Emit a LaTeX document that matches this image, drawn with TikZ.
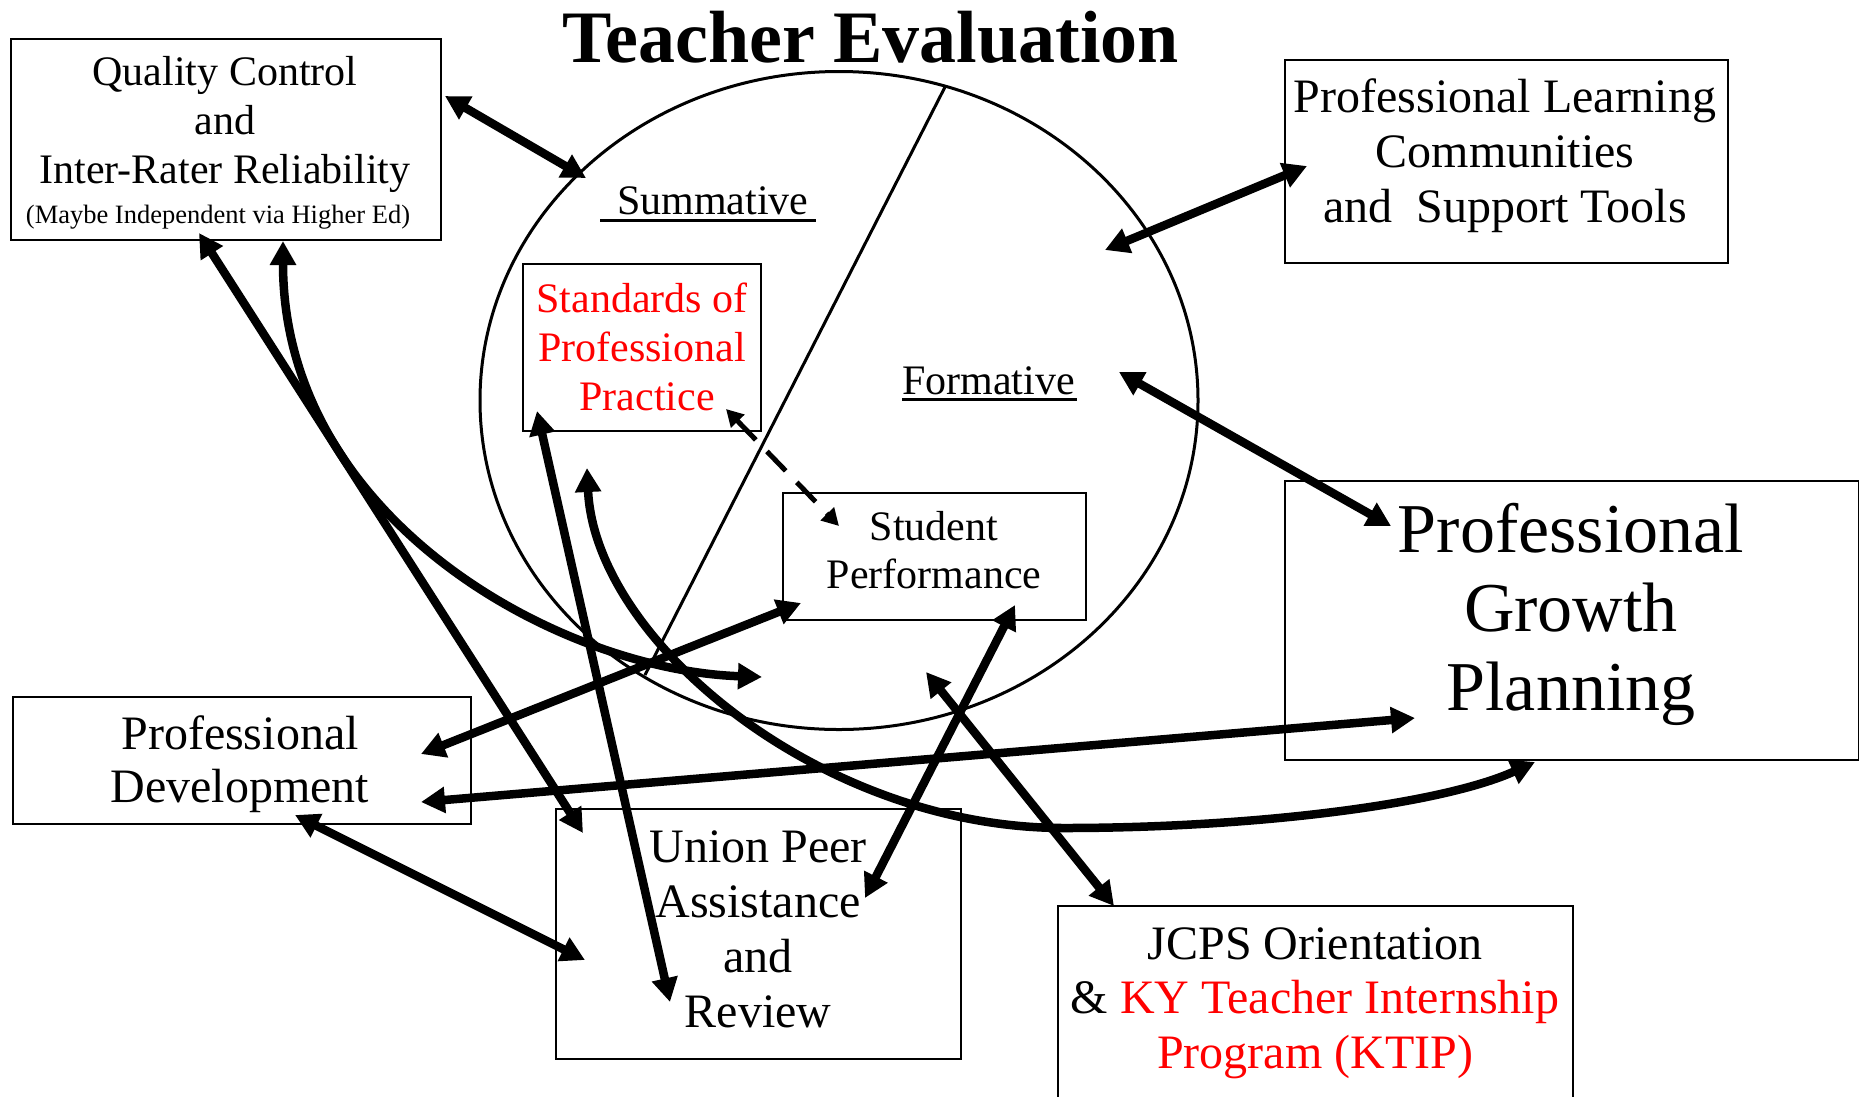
\documentclass[tikz,border=0pt]{standalone}
\usepackage{fontspec}
\setmainfont{Liberation Serif}
\usetikzlibrary{arrows.meta,shapes.geometric}
\newcommand{\mylines}[1]{\begin{tabular}[t]{@{}c@{}}#1\end{tabular}}
\begin{document}
\begin{tikzpicture}[x=1pt,y=-1pt,
  bigtip/.tip={Triangle[length=24pt,width=25pt]},
  smalltip/.tip={Triangle[length=17pt,width=18pt]},
  box/.style={draw, line width=2pt, inner sep=0pt, anchor=north west},
  txt/.style={inner sep=0pt, anchor=base},
  arr/.style={line width=8.5pt, bigtip-bigtip},
  darr/.style={line width=5pt, dash pattern=on 27pt off 16pt, smalltip-smalltip},
  f42/.style={font=\fontsize{42}{49}\selectfont},
  f48/.style={font=\fontsize{48}{55}\selectfont},
  f70/.style={font=\fontsize{70}{79}\selectfont}]
\useasboundingbox (0,0) rectangle (1859,1096);
\fill[white] (0,0) rectangle (1859,1096);

% central ellipse and divider
\node[draw, ellipse, line width=3pt, inner sep=0pt, minimum width=718pt, minimum height=658pt] (teval) at (839,400.5) {};
\coordinate (divtop) at (945,87);
\coordinate (divbot) at (645,675);
\draw[line width=3pt] (divtop) -- (divbot);

% title
\node[txt, font=\bfseries\fontsize{74}{80}\selectfont] (title) at (871,62) {Teacher Evaluation};

% labels in ellipse
\node[txt, anchor=base west, f42] (summ) at (600,214) {\hspace*{17pt}Summative};
\draw[line width=3pt] ([yshift=-6pt]summ.base west) -- ([yshift=-6pt,xshift=7pt]summ.base east);
\node[txt, anchor=base west, f42] (form) at (902,394) {Formative};
\draw[line width=3pt] ([yshift=-5pt]form.base west) -- ([yshift=-5pt,xshift=2pt]form.base east);

% boxes
\node[box, minimum width=430pt, minimum height=201pt] (qc) at (10,38) {};
\node[txt, f42] (qct) at (225,85) {\mylines{Quality Control\\ and\\ Inter-Rater Reliability\\[-9pt] {\fontsize{26.5}{30}\selectfont (Maybe Independent via Higher Ed)\hspace*{14pt}}}};

\node[box, minimum width=238pt, minimum height=167pt] (std) at (522,263) {};
\node[txt, f42, text=red] (stdt) at (642,312) {\mylines{Standards of\\ Professional\\ \hspace*{10pt}Practice}};

\node[box, minimum width=303pt, minimum height=127pt] (stu) at (782,492) {};
\node[txt, font=\fontsize{42}{48}\selectfont] (stut) at (934,540) {\mylines{Student\\ Performance}};

\node[box, minimum width=443pt, minimum height=203pt] (plc) at (1284,59) {};
\node[txt, f48] (plct) at (1505,112) {\mylines{Professional Learning\\ Communities\\ and\ \ Support Tools}};

\node[box, minimum width=574pt, minimum height=279pt] (pgp) at (1284,480) {};
\node[txt, f70] (pgpt) at (1571,552) {\mylines{Professional\\ Growth\\ Planning}};

\node[box, minimum width=458pt, minimum height=127pt] (pd) at (12,696) {};
\node[txt, font=\fontsize{48}{53}\selectfont] (pdt) at (240,749) {\mylines{Professional\\ Development}};

\node[box, minimum width=405pt, minimum height=250pt] (upr) at (555,808) {};
\node[txt, f48] (uprt) at (758,862) {\mylines{Union Peer\\ Assistance\\ and\\ Review}};

\node[box, minimum width=515pt, minimum height=250pt] (jcps) at (1057,905) {};
\node[txt, font=\fontsize{48}{54.5}\selectfont] (jcpst) at (1315,959) {\mylines{JCPS Orientation\\ \& {\color{red}KY Teacher Internship}\\ {\color{red}Program (KTIP)}}};

% connector end points
\coordinate (qcA) at (445,96);   \coordinate (sumA) at (586,178);
\coordinate (plcA) at (1307,166); \coordinate (formA) at (1105,250);
\coordinate (formB) at (1119,372); \coordinate (pgpA) at (1391,526);
\coordinate (qcB) at (199,233);  \coordinate (uprA) at (583,833);
\coordinate (qcC) at (283,241);  \coordinate (sumB) at (762,677);
\coordinate (stdA) at (537,411); \coordinate (uprB) at (670,1002);
\coordinate (sumC) at (587,468); \coordinate (lowM) at (1064,828); \coordinate (pgpB) at (1535,762);
\coordinate (stdB) at (726,409); \coordinate (stuA) at (839,526);
\coordinate (stuB) at (801,603); \coordinate (pdA) at (421,754);
\coordinate (pgpC) at (1415,718); \coordinate (pdB) at (421,802);
\coordinate (pdC) at (295,815);  \coordinate (uprC) at (585,960);
\coordinate (stuC) at (1015,605); \coordinate (uprD) at (865,898);
\coordinate (formC) at (926,672); \coordinate (jcpsA) at (1114,906);

% connectors
\draw[arr] (qcA) -- (sumA);
\draw[arr] (plcA) -- (formA);
\draw[arr] (formB) -- (pgpA);
\draw[arr] (qcB) -- (uprA);
\draw[arr] (qcC) .. controls (283,520) and (560,670) .. (sumB);
\draw[arr] (stdA) -- (uprB);
\draw[arr] (sumC) .. controls (595,640) and (820,828) .. (lowM) .. controls (1250,828) and (1440,805) .. (pgpB);
\draw[darr] (stdB) -- (stuA);
\draw[arr] (stuB) -- (pdA);
\draw[arr] (pgpC) -- (pdB);
\draw[arr] (pdC) -- (uprC);
\draw[arr] (stuC) -- (uprD);
\draw[arr] (formC) -- (jcpsA);
\end{tikzpicture}
\end{document}
